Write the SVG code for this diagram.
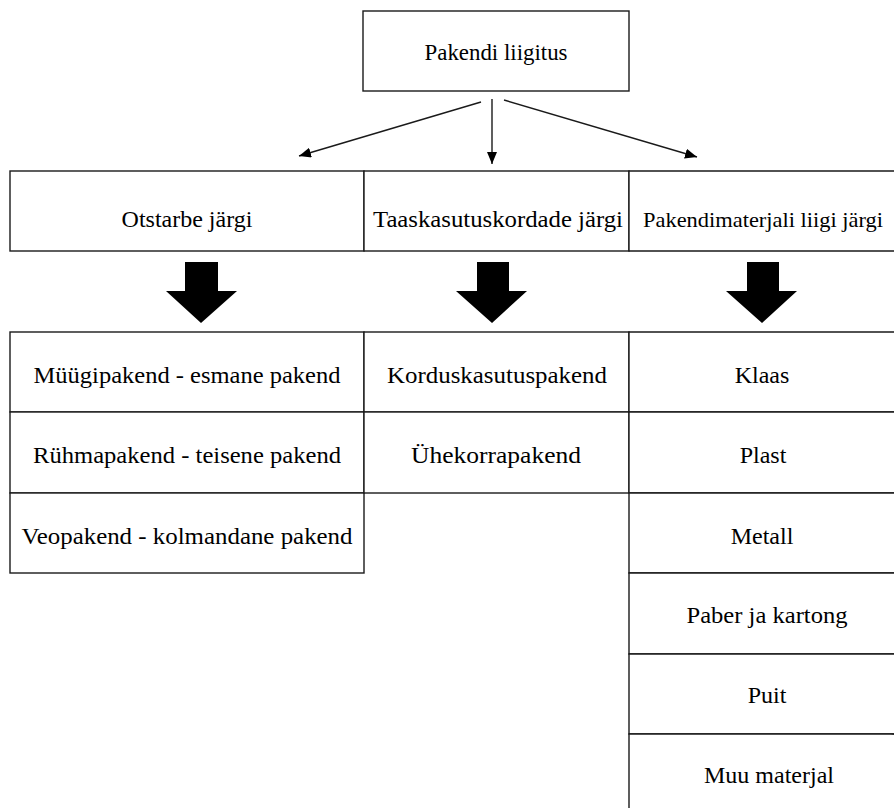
<svg xmlns="http://www.w3.org/2000/svg" width="894" height="808" viewBox="0 0 894 808">
<style>
.box{fill:#fff;stroke:#1a1a1a;stroke-width:1.4}
.t{font-family:'Liberation Serif','Times New Roman',serif;font-size:24px;fill:#000;text-anchor:middle}
.ln{stroke:#1a1a1a;stroke-width:1.4;fill:none;marker-end:url(#ah)}
.blk{fill:#000}
</style>
<defs>
<marker id="ah" viewBox="0 0 12 10" refX="12" refY="5" markerWidth="12" markerHeight="10" markerUnits="userSpaceOnUse" orient="auto">
<path d="M0,0 L12,5 L0,10 Z" fill="#000"/>
</marker>
</defs>
<rect width="894" height="808" fill="#fff"/>
<g id="root"><rect class="box" x="363" y="11" width="266" height="80"/><text class="t" x="496" y="60" textLength="143" lengthAdjust="spacingAndGlyphs">Pakendi liigitus</text></g>
<g id="connectors">
<line class="ln" x1="481" y1="102" x2="299" y2="156"/>
<line class="ln" x1="492" y1="99" x2="492" y2="164"/>
<line class="ln" x1="504" y1="100" x2="697" y2="157"/>
<polygon class="blk" points="185,262 218,262 218,291 237,291 201,323 166,291 185,291"/>
<polygon class="blk" points="477,262 509,262 509,291 527,291 492,323 456,291 477,291"/>
<polygon class="blk" points="747,262 779,262 779,291 797,291 762,323 726,291 747,291"/>
</g>
<g id="cat1"><rect class="box" x="10" y="171" width="354" height="80"/><text class="t" x="187" y="227">Otstarbe järgi</text></g>
<g id="cat2"><rect class="box" x="364" y="171" width="265" height="80"/><text class="t" x="498" y="227" textLength="250" lengthAdjust="spacingAndGlyphs">Taaskasutuskordade järgi</text></g>
<g id="cat3"><path class="box" d="M894,171 H629 V251 H894"/><text class="t" style="font-size:21px" x="763" y="227" textLength="240" lengthAdjust="spacingAndGlyphs">Pakendimaterjali liigi järgi</text></g>
<g id="a1"><rect class="box" x="10" y="332" width="354" height="80"/><text class="t" x="187" y="383" textLength="307" lengthAdjust="spacingAndGlyphs">Müügipakend - esmane pakend</text></g>
<g id="a2"><rect class="box" x="10" y="412" width="354" height="81"/><text class="t" x="187" y="463" textLength="308" lengthAdjust="spacingAndGlyphs">Rühmapakend - teisene pakend</text></g>
<g id="a3"><rect class="box" x="10" y="493" width="354" height="80"/><text class="t" x="187" y="544" textLength="331" lengthAdjust="spacingAndGlyphs">Veopakend - kolmandane pakend</text></g>
<g id="b1"><rect class="box" x="364" y="332" width="265" height="80"/><text class="t" x="497" y="383" textLength="220" lengthAdjust="spacingAndGlyphs">Korduskasutuspakend</text></g>
<g id="b2"><rect class="box" x="364" y="412" width="265" height="81"/><text class="t" x="496" y="463" textLength="170" lengthAdjust="spacingAndGlyphs">Ühekorrapakend</text></g>
<g id="c1"><path class="box" d="M894,332 H629 V412 H894"/><text class="t" x="762" y="383">Klaas</text></g>
<g id="c2"><path class="box" d="M894,412 H629 V493 H894"/><text class="t" x="763" y="463">Plast</text></g>
<g id="c3"><path class="box" d="M894,493 H629 V573 H894"/><text class="t" x="762" y="544">Metall</text></g>
<g id="c4"><path class="box" d="M894,573 H629 V654 H894"/><text class="t" x="767" y="623" textLength="161" lengthAdjust="spacingAndGlyphs">Paber ja kartong</text></g>
<g id="c5"><path class="box" d="M894,654 H629 V734 H894"/><text class="t" x="767" y="703">Puit</text></g>
<g id="c6"><path class="box" d="M894,734 H629 V808"/><text class="t" x="769" y="783">Muu materjal</text></g>
</svg>
